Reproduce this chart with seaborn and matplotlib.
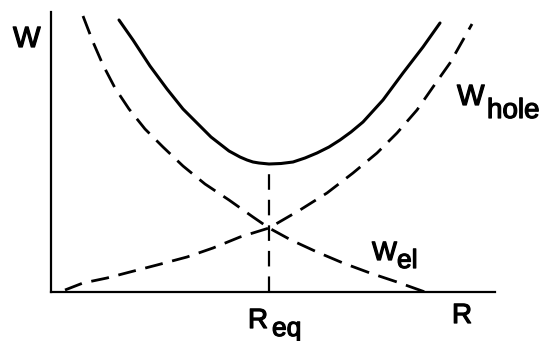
import matplotlib
matplotlib.use("Agg")
import matplotlib.pyplot as plt
import matplotlib.patheffects as pe
import seaborn as sns
import pandas as pd

# schematic curves (arbitrary units, R along x, W up)
r_el = [32, 42, 52, 64, 78, 94, 112, 132, 154, 178, 202, 218, 240, 266, 292, 319, 346, 374]
w_el = [276, 250, 227, 204, 183, 163, 145, 126, 108, 92, 75, 64, 52, 40, 29, 19, 10, 0]

r_hole = [14, 32, 56, 79, 106, 136, 162, 189, 218, 249, 276, 302, 326, 346, 366, 382, 399, 412, 421]
w_hole = [2, 9, 14, 20, 27, 35, 44, 55, 64, 82, 99, 119, 139, 159, 182, 205, 229, 252, 268]

r_tot = [68, 82, 99, 116, 132, 149, 160, 169, 178, 189, 196, 202, 208, 218, 230, 242, 254,
         266, 278, 289, 300, 312, 332, 352, 372, 389]
w_tot = [272, 252, 226, 203, 183, 166, 155, 148, 141, 135, 132, 130, 129, 128, 128.5, 130, 134,
         139, 145, 152, 160, 170, 192, 219, 245, 269]

r_eq = 218
w_min = 128

sns.set_theme(style="white")
plt.rcParams['font.family'] = ['Liberation Sans', 'DejaVu Sans']

fig = plt.figure(figsize=(5.43, 3.41), dpi=100)
ax = fig.add_axes([51 / 543, 49 / 341, 444 / 543, 280 / 341])

df_el = pd.DataFrame({'R': r_el, 'W': w_el})
df_hole = pd.DataFrame({'R': r_hole, 'W': w_hole})
df_tot = pd.DataFrame({'R': r_tot, 'W': w_tot})

sns.lineplot(data=df_tot, x='R', y='W', sort=False, color='black', lw=2.2, ax=ax)
sns.lineplot(data=df_el, x='R', y='W', sort=False, color='black', lw=2.0,
             ax=ax).lines[-1].set_dashes((7, 3.5))
sns.lineplot(data=df_hole, x='R', y='W', sort=False, color='black', lw=2.0,
             ax=ax).lines[-1].set_dashes((6.5, 3.5))
ax.plot([r_eq, r_eq], [0, w_min], color='black', lw=1.6, dashes=(7, 4.5))

ax.set_xlim(0, 444)
ax.set_ylim(0, 280)
ax.set_xticks([])
ax.set_yticks([])
ax.set_xlabel('')
ax.set_ylabel('')
sns.despine(ax=ax)
for s in ['left', 'bottom']:
    ax.spines[s].set_color('black')
    ax.spines[s].set_linewidth(1.6)

# regular face, thickened a little to match the heavy lettering
thick = [pe.withStroke(linewidth=0.9, foreground='black')]
kw = dict(color='black', va='baseline', ha='left', clip_on=False, path_effects=thick)
ax.text(-38, 245, 'W', fontsize=21, **kw)
ax.text(406, 187, 'W', fontsize=21, **kw)
ax.text(436, 174, 'hole', fontsize=20, **kw)
ax.text(321, 32, 'W', fontsize=19, **kw)
ax.text(346, 24, 'el', fontsize=19, **kw)
ax.text(197, -36, 'R', fontsize=20, **kw)
ax.text(221, -44, 'eq', fontsize=19, **kw)
ax.text(401, -31, 'R', fontsize=20, **kw)

fig.savefig('out.png', dpi=100)
